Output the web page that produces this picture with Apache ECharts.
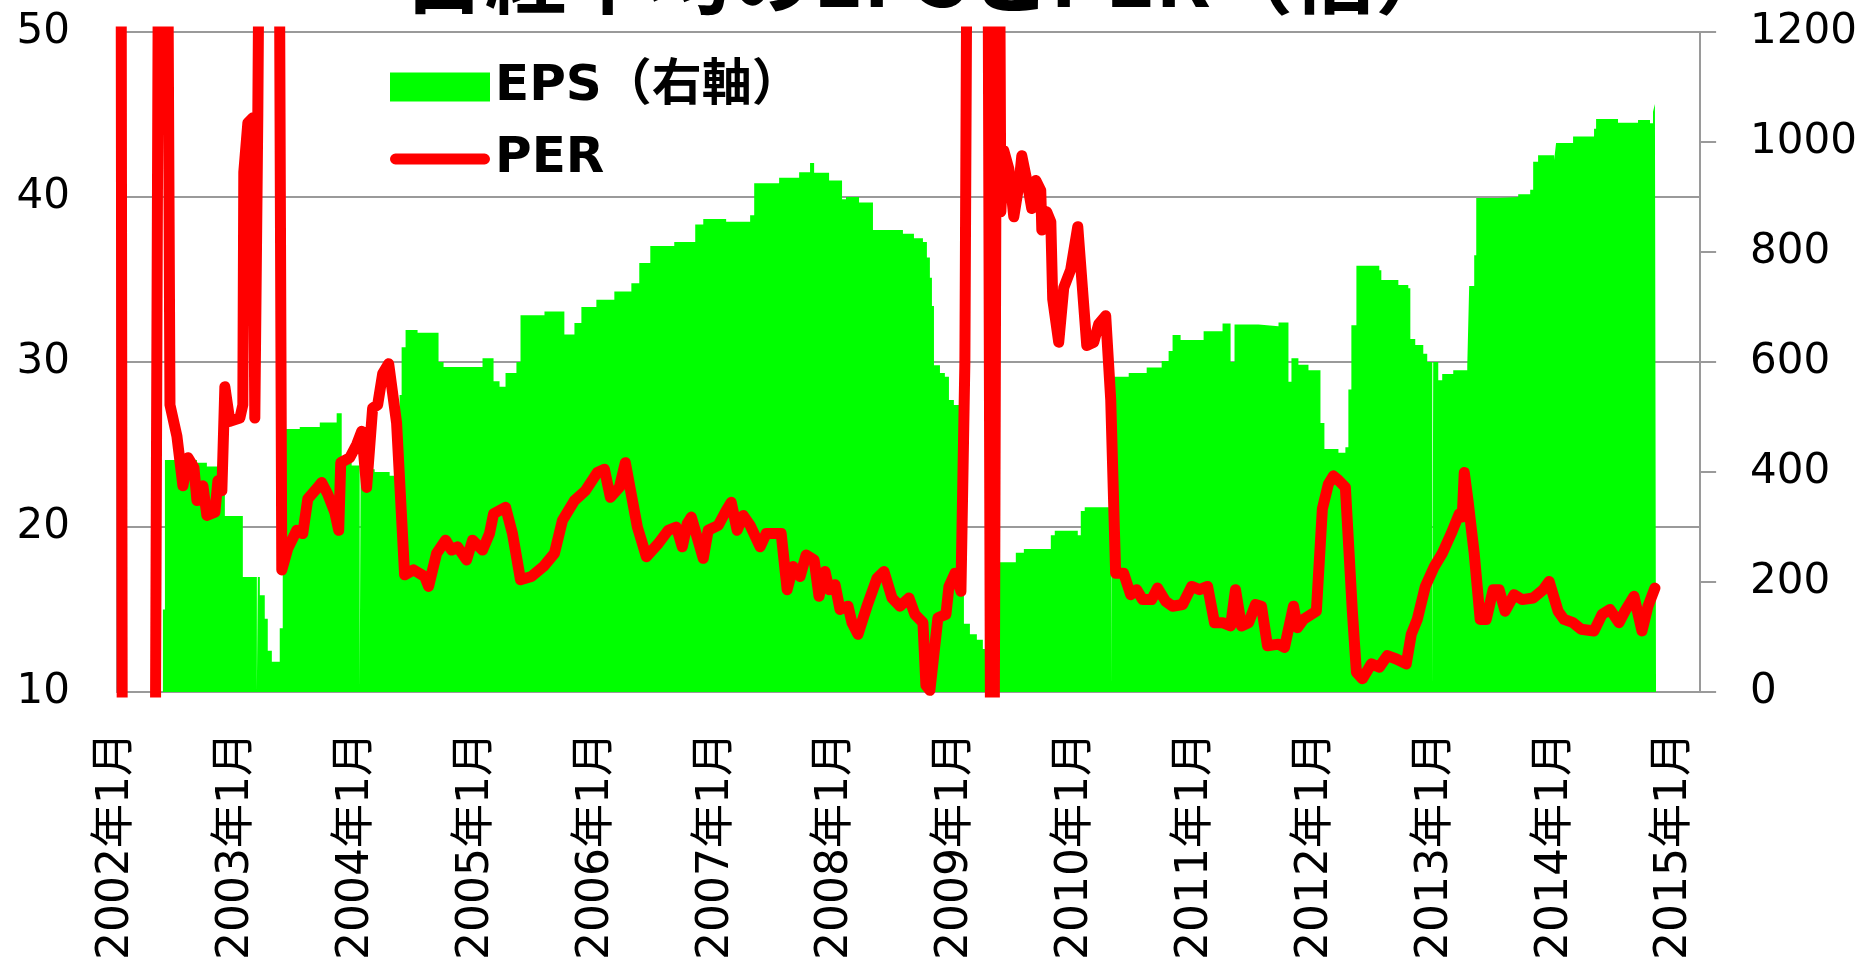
<!DOCTYPE html>
<html><head><meta charset="utf-8">
<script src="https://cdn.jsdelivr.net/npm/echarts@6/dist/echarts.min.js"></script>
<style>html,body{margin:0;padding:0;background:#fff}#c{width:1860px;height:967px}</style>
</head><body><div id="c"></div>
<script>
const titleText = '日経平均のEPSとPER（倍）';
const epsName = 'EPS（右軸）';
const perName = 'PER';
const xTickYears = [2002,2003,2004,2005,2006,2007,2008,2009,2010,2011,2012,2013,2014,2015];

const epsYears = [2002.000,2002.042,2002.383,2002.400,2002.667,2002.750,2002.900,2003.050,2003.167,2003.175,2003.192,2003.233,2003.258,2003.292,2003.358,2003.383,2003.525,2003.692,2003.833,2003.875,2003.958,2004.025,2004.033,2004.150,2004.275,2004.358,2004.375,2004.408,2004.508,2004.683,2004.725,2005.050,2005.142,2005.192,2005.242,2005.333,2005.367,2005.567,2005.733,2005.817,2005.875,2006.000,2006.150,2006.292,2006.358,2006.450,2006.650,2006.825,2006.892,2007.083,2007.283,2007.317,2007.525,2007.692,2007.783,2007.817,2007.942,2008.050,2008.083,2008.192,2008.308,2008.558,2008.650,2008.725,2008.758,2008.783,2008.800,2008.817,2008.867,2008.908,2008.942,2008.983,2009.067,2009.117,2009.175,2009.225,2009.258,2009.283,2009.358,2009.500,2009.567,2009.792,2009.825,2010.017,2010.042,2010.075,2010.300,2010.308,2010.442,2010.592,2010.717,2010.775,2010.808,2010.875,2011.067,2011.225,2011.292,2011.325,2011.525,2011.692,2011.775,2011.800,2011.858,2011.942,2012.042,2012.075,2012.192,2012.250,2012.275,2012.300,2012.342,2012.533,2012.550,2012.692,2012.775,2012.792,2012.833,2012.900,2012.933,2012.975,2012.983,2013.025,2013.058,2013.150,2013.267,2013.283,2013.325,2013.342,2013.525,2013.692,2013.792,2013.817,2013.858,2013.992,2014.008,2014.150,2014.325,2014.342,2014.525,2014.692,2014.792,2014.817,2014.833,2014.842];
const epsValues = [10,0,150,422,417,410,320,209,0,209,176,133,75,55,116,478,482,490,507,422,412,0,405,400,393,540,627,658,653,600,591,607,565,555,580,600,685,692,650,671,700,713,728,743,780,811,818,850,860,855,867,925,935,945,962,944,930,896,900,890,840,833,825,818,790,753,702,594,580,573,531,522,124,105,95,78,49,0,236,253,260,285,293,285,329,336,0,573,580,590,602,620,649,640,656,670,600,668,665,672,564,607,595,585,489,442,435,445,550,667,775,767,749,740,734,642,631,615,600,0,600,567,578,585,593,738,794,898,900,905,913,964,976,967,998,1010,1024,1042,1035,1040,1034,1055,1069,1069];

const perYears = [2002.000,2002.030,2002.045,2002.317,2002.358,2002.408,2002.442,2002.500,2002.550,2002.592,2002.642,2002.667,2002.717,2002.750,2002.817,2002.842,2002.875,2002.900,2002.942,2003.025,2003.050,2003.058,2003.092,2003.133,2003.150,2003.175,2003.208,2003.342,2003.375,2003.425,2003.500,2003.550,2003.592,2003.675,2003.708,2003.758,2003.817,2003.850,2003.867,2003.942,2004.000,2004.042,2004.083,2004.133,2004.175,2004.217,2004.267,2004.333,2004.400,2004.475,2004.567,2004.600,2004.667,2004.742,2004.792,2004.842,2004.917,2004.967,2005.050,2005.108,2005.142,2005.242,2005.300,2005.367,2005.458,2005.558,2005.650,2005.717,2005.817,2005.908,2006.008,2006.067,2006.117,2006.192,2006.242,2006.342,2006.417,2006.517,2006.600,2006.667,2006.717,2006.758,2006.792,2006.892,2006.933,2007.017,2007.083,2007.125,2007.175,2007.225,2007.283,2007.367,2007.417,2007.542,2007.592,2007.642,2007.700,2007.750,2007.817,2007.858,2007.908,2007.942,2007.992,2008.033,2008.100,2008.133,2008.183,2008.258,2008.342,2008.400,2008.467,2008.533,2008.608,2008.658,2008.725,2008.750,2008.783,2008.850,2008.917,2008.942,2008.992,2009.042,2009.075,2009.108,2009.258,2009.292,2009.317,2009.350,2009.375,2009.400,2009.442,2009.483,2009.525,2009.550,2009.592,2009.633,2009.667,2009.708,2009.717,2009.758,2009.792,2009.808,2009.858,2009.900,2009.958,2010.017,2010.092,2010.150,2010.192,2010.250,2010.292,2010.333,2010.400,2010.458,2010.508,2010.558,2010.633,2010.683,2010.750,2010.808,2010.892,2010.967,2011.033,2011.100,2011.158,2011.225,2011.292,2011.333,2011.383,2011.442,2011.500,2011.550,2011.600,2011.692,2011.742,2011.817,2011.850,2011.900,2012.008,2012.058,2012.108,2012.150,2012.183,2012.250,2012.308,2012.342,2012.392,2012.467,2012.533,2012.600,2012.675,2012.758,2012.800,2012.850,2012.917,2012.992,2013.058,2013.133,2013.200,2013.225,2013.242,2013.275,2013.325,2013.375,2013.425,2013.483,2013.533,2013.583,2013.658,2013.725,2013.817,2013.900,2013.950,2014.025,2014.075,2014.150,2014.217,2014.325,2014.392,2014.458,2014.533,2014.583,2014.658,2014.725,2014.775,2014.833];
const perValues = [80,80,0,0,80,80,27.4,25.5,22.5,24.2,23.6,21.6,22.5,20.7,20.9,22.8,22.2,28.5,26.4,26.6,27.4,41.5,44.5,44.8,26.6,45,80,80,17.4,18.7,19.8,19.6,21.7,22.4,22.7,22.0,20.9,19.8,23.9,24.2,25.0,25.8,22.4,27.2,27.4,29.3,29.9,26.3,17.1,17.4,17.0,16.4,18.4,19.2,18.6,18.8,18.0,19.2,18.6,19.6,20.8,21.2,19.6,16.8,17.0,17.6,18.4,20.4,21.6,22.2,23.3,23.5,21.8,22.4,23.9,20.0,18.2,19.0,19.8,20.0,18.8,20.2,20.6,18.1,19.8,20.1,21.0,21.5,19.8,20.7,20.1,18.8,19.6,19.6,16.2,17.6,17.0,18.3,18.0,15.8,17.3,16.2,16.5,15.0,15.2,14.2,13.5,15.2,16.9,17.3,15.7,15.2,15.7,14.7,14.2,10.4,10.1,14.5,14.7,16.4,17.2,16.1,30,80,80,0,0,80,39.1,42.8,41.7,38.8,40.7,42.5,41.0,39.3,41.0,40.4,38.0,39.1,38.5,33.8,31.2,34.5,35.6,38.2,31.0,31.2,32.3,32.8,27.7,17.2,17.2,15.9,16.2,15.6,15.6,16.3,15.5,15.2,15.3,16.4,16.2,16.4,14.2,14.2,14.0,16.2,14.0,14.2,15.3,15.2,12.8,12.9,12.7,15.2,13.9,14.4,14.9,21.1,22.6,23.1,22.9,22.4,14.9,11.2,10.8,11.7,11.5,12.2,12.0,11.7,13.5,14.4,16.4,17.6,18.4,19.6,20.8,20.6,23.3,21.5,18.4,14.4,14.4,16.2,16.2,14.9,15.9,15.6,15.7,16.2,16.7,14.9,14.4,14.2,13.8,13.7,14.7,15.0,14.2,14.9,15.8,13.7,15.2,16.3];

const epsData = epsYears.map((x, i) => [x, epsValues[i]]);
const perData = perYears.map((x, i) => [x, perValues[i]]);

const GREY = '#9a9a9a';
const FONT = '"DejaVu Sans", "Noto Sans CJK JP", sans-serif';
const perIcon = 'path://M0,0 L0.01,0 L0,0.01 Z M5,9 L95,9 A5.5,5.5 0 0 1 95,20 L5,20 A5.5,5.5 0 0 1 5,9 Z M99.99,29 L100,29 L100,28.99 Z';

const chart = echarts.init(document.getElementById('c'), null, {renderer: 'canvas'});
chart.setOption({
  animation: false,
  backgroundColor: '#fff',
  title: {
    text: titleText, left: 'center', top: -70,
    textStyle: {fontSize: 82, fontWeight: 'bold', color: '#000', fontFamily: '"Noto Sans CJK JP", sans-serif'}
  },
  legend: {
    orient: 'vertical', left: 385, top: 54, itemWidth: 100, itemHeight: 29, itemGap: 16, itemTextGap: 9,
    textStyle: {fontSize: 50, fontWeight: 'bold', color: '#000', fontFamily: FONT, lineHeight: 56},
    data: [
      {name: epsName, icon: 'rect', itemStyle: {color: '#00ff00'}},
      {name: perName, icon: perIcon, itemStyle: {color: '#ff0000'}}
    ]
  },
  grid: {left: 117, right: 156, top: 32, bottom: 275, containLabel: false},
  xAxis: {
    type: 'value', min: 2002, max: 2015.21,
    axisLine: {show: true, lineStyle: {color: GREY, width: 2}},
    axisTick: {show: false},
    splitLine: {show: false},
    axisLabel: {
      rotate: 90, margin: 40, fontSize: 44, color: '#000', fontFamily: FONT,
      padding: [10, 0, 0, 0],
      customValues: xTickYears,
      formatter: v => Math.round(v) + '年1月'
    }
  },
  yAxis: [
    {
      type: 'value', min: 10, max: 50, interval: 10, position: 'left',
      axisLine: {show: true, lineStyle: {color: GREY, width: 2}},
      axisTick: {show: false},
      splitLine: {show: true, lineStyle: {color: GREY, width: 2}},
      axisLabel: {fontSize: 42, color: '#000', margin: 47, fontFamily: FONT}
    },
    {
      type: 'value', min: 0, max: 1200, interval: 200, position: 'right',
      axisLine: {show: true, lineStyle: {color: GREY, width: 2}},
      axisTick: {show: true, inside: false, length: 16, lineStyle: {color: GREY, width: 2}},
      splitLine: {show: false},
      axisLabel: {fontSize: 42, color: '#000', margin: 50, fontFamily: FONT, formatter: v => String(v)}
    }
  ],
  series: [
    {
      name: epsName, type: 'line', yAxisIndex: 1, step: 'end', data: epsData,
      symbol: 'none', showSymbol: false, z: 1,
      lineStyle: {width: 0, color: '#00ff00'},
      itemStyle: {color: '#00ff00'},
      areaStyle: {color: '#00ff00', opacity: 1}
    },
    {
      name: perName, type: 'line', yAxisIndex: 0, data: perData,
      symbol: 'none', showSymbol: false, z: 3, clip: true,
      lineStyle: {width: 11, color: '#ff0000', join: 'round', cap: 'round'},
      itemStyle: {color: '#ff0000'}
    }
  ]
});
</script>
</body></html>
